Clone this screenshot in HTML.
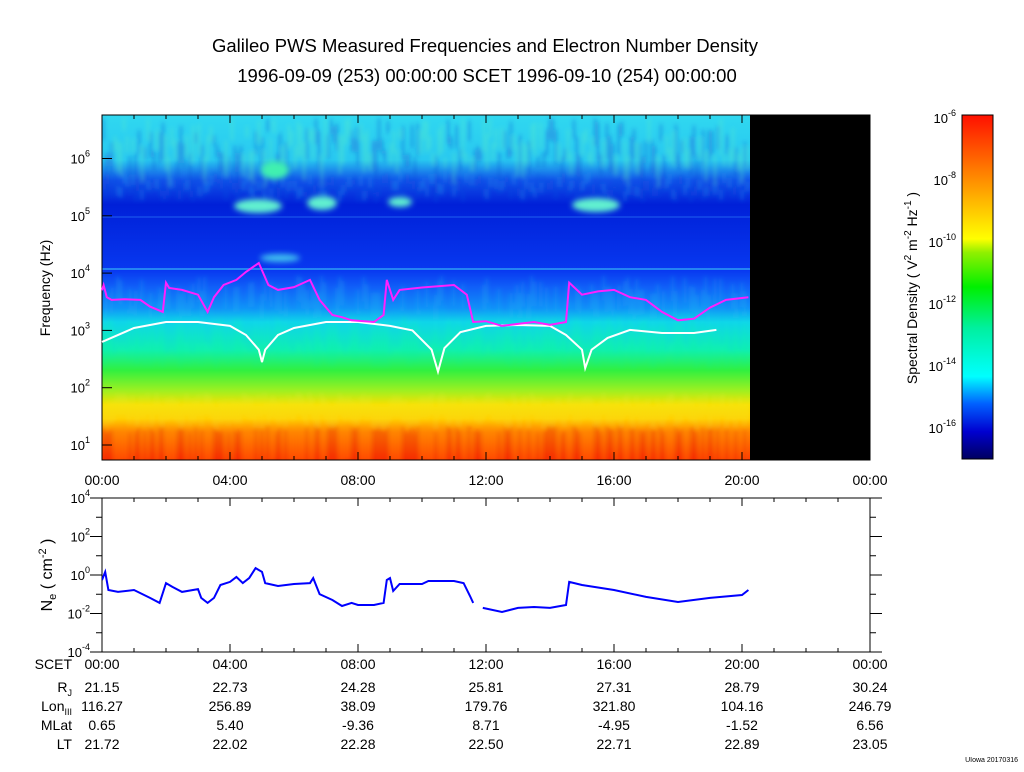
<!DOCTYPE html>
<html><head><meta charset="utf-8"><style>
body{margin:0;background:#fff;width:1024px;height:767px;overflow:hidden;font-family:"Liberation Sans",sans-serif}
svg text{font-family:"Liberation Sans",sans-serif;fill:#000}
</style></head><body>
<svg id="c" width="1024" height="767" xmlns="http://www.w3.org/2000/svg">
<defs>
<linearGradient id="spec" x1="0" y1="115" x2="0" y2="460" gradientUnits="userSpaceOnUse">
<stop offset="0" stop-color="#30d8f0"/><stop offset="0.13" stop-color="#28c8f0"/>
<stop offset="0.19" stop-color="#1050e8"/><stop offset="0.26" stop-color="#0020d8"/>
<stop offset="0.45" stop-color="#0838f0"/><stop offset="0.5" stop-color="#1060f8"/>
<stop offset="0.56" stop-color="#1090f8"/><stop offset="0.6" stop-color="#10d8e8"/>
<stop offset="0.68" stop-color="#10f0b0"/><stop offset="0.74" stop-color="#30f040"/>
<stop offset="0.8" stop-color="#a0f020"/><stop offset="0.84" stop-color="#f8e000"/>
<stop offset="0.88" stop-color="#ffd000"/><stop offset="0.92" stop-color="#ff8000"/>
<stop offset="1" stop-color="#ff3000"/>
</linearGradient>
<linearGradient id="cbar" x1="0" y1="1" x2="0" y2="0">
<stop offset="0" stop-color="#000060"/><stop offset="0.08" stop-color="#0000d0"/>
<stop offset="0.16" stop-color="#0060ff"/><stop offset="0.24" stop-color="#00ffff"/>
<stop offset="0.38" stop-color="#00f0a0"/><stop offset="0.5" stop-color="#00f000"/>
<stop offset="0.6" stop-color="#90f000"/><stop offset="0.64" stop-color="#ffff00"/>
<stop offset="0.76" stop-color="#ffb000"/><stop offset="0.88" stop-color="#ff6000"/>
<stop offset="1" stop-color="#ff1000"/>
</linearGradient>
<filter id="bl"><feGaussianBlur stdDeviation="3"/></filter>
<filter id="bl2"><feGaussianBlur stdDeviation="2"/></filter>
<clipPath id="clipTop"><rect x="102" y="115" width="648" height="345"/></clipPath>
<clipPath id="clipBot"><rect x="102" y="498" width="768" height="154"/></clipPath>
</defs>
<text x="485" y="52" font-size="18.5" text-anchor="middle">Galileo PWS Measured Frequencies and Electron Number Density</text>
<text x="487" y="82" font-size="18.5" text-anchor="middle">1996-09-09 (253) 00:00:00 SCET 1996-09-10 (254) 00:00:00</text>
<g clip-path="url(#clipTop)">
<rect x="102" y="115" width="648" height="345" fill="url(#spec)"/>
<g id="noise" filter="url(#bl2)"></g>
<g filter="url(#bl)">
<ellipse cx="275" cy="170" rx="14" ry="9" fill="#40f0b0"/>
<ellipse cx="258" cy="206" rx="24" ry="7" fill="#60f0d0"/>
<ellipse cx="322" cy="203" rx="15" ry="7" fill="#60f0d0"/>
<ellipse cx="400" cy="202" rx="12" ry="5" fill="#60f0d0"/>
<ellipse cx="596" cy="205" rx="24" ry="7" fill="#60f0d0"/>
<ellipse cx="280" cy="258" rx="20" ry="4" fill="#40c0f0"/>
</g>
<rect x="102" y="268" width="648" height="2" fill="#40d0f8" opacity="0.5"/>
<rect x="102" y="216" width="648" height="2" fill="#2060f0" opacity="0.5"/>
</g>
<rect x="750" y="115" width="120" height="345" fill="#000"/>
<g id="topAxes"></g>
<g id="botAxes"></g>
<g id="lines"></g>
<text transform="translate(50,288) rotate(-90)" font-size="14" text-anchor="middle">Frequency (Hz)</text>
<text transform="translate(52,575) rotate(-90)" font-size="16" text-anchor="middle">N<tspan font-size="11" dy="4">e</tspan><tspan dy="-4"> ( cm</tspan><tspan font-size="11" dy="-6">-2</tspan><tspan dy="6"> )</tspan></text>
<rect x="962" y="115" width="31" height="344" fill="url(#cbar)" stroke="#000"/>
<g id="cbTicks"></g>
<text transform="translate(917,288) rotate(-90)" font-size="14" text-anchor="middle">Spectral Density ( V<tspan font-size="10" dy="-6">2</tspan><tspan dy="6"> m</tspan><tspan font-size="10" dy="-6">-2</tspan><tspan dy="6"> Hz</tspan><tspan font-size="10" dy="-6">-1</tspan><tspan dy="6"> )</tspan></text>
<g id="table" font-size="14"></g>
<text x="1018" y="762" font-size="7" text-anchor="end">UIowa 20170316</text>
</svg>
<script>
const magHours=[0,0.05,0.15,0.3,0.7,1.2,1.5,1.9,2.0,2.1,2.5,3.0,3.3,3.5,3.8,4.2,4.5,4.9,5.2,5.5,6.0,6.5,6.8,7.2,7.5,7.8,8.2,8.5,8.8,8.9,9.1,9.3,10.0,11.0,11.4,11.6,12.0,12.5,13.0,13.5,14.0,14.5,14.6,15.0,15.5,16.0,16.5,17.0,17.5,18.0,18.5,19.0,19.5,20.2];
const magHz=[5000,6200,3800,3400,3500,3400,2600,2100,6800,5500,5100,4200,2100,3800,6200,7600,10500,15000,6200,5100,5700,7600,3400,1860,1700,1500,1450,1400,1860,7600,3400,5100,5600,6200,4200,1400,1450,1200,1300,1400,1250,1400,6800,4200,4800,5100,3800,3400,2100,1500,1600,2500,3400,3800];
const wHours=[0,1,2,3,4,4.5,4.9,5.0,5.1,5.5,6,7,8,9,9.7,10.3,10.5,10.7,11.2,12,13,14,14.5,15.0,15.1,15.3,15.8,16.5,17.5,18.5,19.2];
const wHz=[630,1100,1400,1400,1200,830,460,280,460,830,1100,1400,1400,1200,1000,460,190,490,930,1200,1240,1200,830,460,220,460,740,1020,900,900,1020];
const neHours=[0,0.1,0.2,0.5,1,1.5,1.8,2.0,2.2,2.5,3.0,3.1,3.3,3.5,3.7,4.0,4.2,4.4,4.6,4.8,5.0,5.1,5.5,6,6.5,6.6,6.8,7.2,7.5,7.8,8,8.5,8.8,8.9,9.0,9.1,9.3,10,10.2,11,11.3,11.5,11.6,null,11.9,12.5,13,13.5,14,14.5,14.6,15,16,17,18,19,20,20.2];
const neLog10=[-0.26,0.16,-0.78,-0.88,-0.78,-1.19,-1.45,-0.42,-0.62,-0.88,-0.73,-1.19,-1.45,-1.19,-0.52,-0.36,-0.1,-0.42,-0.16,0.36,0.16,-0.42,-0.57,-0.47,-0.42,-0.16,-0.99,-1.3,-1.61,-1.45,-1.56,-1.56,-1.45,-0.26,-0.16,-0.83,-0.47,-0.47,-0.31,-0.31,-0.42,-1.09,-1.45,null,-1.71,-1.92,-1.71,-1.66,-1.71,-1.56,-0.36,-0.52,-0.78,-1.14,-1.4,-1.19,-1.04,-0.78];
const timeLabels=["00:00","04:00","08:00","12:00","16:00","20:00","00:00"];
const rjVals=["21.15","22.73","24.28","25.81","27.31","28.79","30.24"];
const lonVals=["116.27","256.89","38.09","179.76","321.80","104.16","246.79"];
const mlatVals=["0.65","5.40","-9.36","8.71","-4.95","-1.52","6.56"];
const ltVals=["21.72","22.02","22.28","22.50","22.71","22.89","23.05"];
const freqExps=[1,2,3,4,5,6];
const neExps=[4,2,0,-2,-4];
const cbExps=[-6,-8,-10,-12,-14,-16];

const NS="http://www.w3.org/2000/svg";
const X0=102,X1=870;
const xT=h=>X0+(X1-X0)*h/24;
const yF=f=>445-(Math.log10(f)-1)*57.3;
const yN=l=>575-l*19.25;
const yCb=e=>118+(-6-e)/2*62;
function mk(tag,attrs,parent){const e=document.createElementNS(NS,tag);for(const k in attrs)e.setAttribute(k,attrs[k]);parent.appendChild(e);return e;}
// decorative texture
const nz=document.getElementById('noise');
function rnd(i){return Math.abs(Math.sin(i*12.9898)*43758.5)%1;}
for(let x=102;x<750;x+=3){
 const k=rnd(x),k2=rnd(x+0.37),k3=rnd(x+0.71);
 mk('rect',{x:x,y:425+k2*8,width:1.5,height:35,fill:k>0.5?'#e02000':'#ff9000',opacity:0.55},nz);
 mk('rect',{x:x,y:392+k*15,width:1.2,height:22,fill:'#f0f040',opacity:0.45},nz);
 mk('rect',{x:x,y:118+k2*40,width:2,height:10+k3*30,fill:k>0.5?'#1040d0':'#60f0c0',opacity:0.45},nz);
 mk('rect',{x:x,y:300+k*30,width:1,height:40,fill:k>0.5?'#20f0a0':'#10c0f0',opacity:0.35},nz);
 mk('rect',{x:x,y:172+k3*20,width:2,height:10,fill:k>0.4?'#1050e0':'#20a0f0',opacity:0.5},nz);
 if(k3>0.5)mk('rect',{x:x,y:275+k*20,width:1.5,height:25,fill:'#20c8f0',opacity:0.4},nz);
}
// top axes
const ta=document.getElementById('topAxes');
const tf=mk('rect',{x:102,y:115,width:768,height:345,fill:'none',stroke:'#000'},ta);


for(let h=0;h<=24;h++){
 const len=h%4===0?8:4;
 mk('line',{x1:xT(h),y1:460,x2:xT(h),y2:460-len,stroke:'#000'},ta);
 mk('line',{x1:xT(h),y1:115,x2:xT(h),y2:115+len,stroke:'#000'},ta);
 mk('line',{x1:xT(h),y1:652,x2:xT(h),y2:652-len,stroke:'#000'},ta);
 mk('line',{x1:xT(h),y1:498,x2:xT(h),y2:498+len,stroke:'#000'},ta);
}
timeLabels.forEach((t,i)=>{
 const e=mk('text',{x:xT(i*4),y:485,'font-size':14,'text-anchor':'middle'},ta);e.textContent=t;
 
 
});
freqExps.forEach(p=>{
 const y=yF(Math.pow(10,p));
 mk('line',{x1:102,y1:y,x2:112,y2:y,stroke:'#000'},ta);
 mk('line',{x1:870,y1:y,x2:860,y2:y,stroke:'#000'},ta);
 const e=mk('text',{x:90,y:y+5,'font-size':13,'text-anchor':'end'},ta);
 e.innerHTML='10<tspan font-size="9" dy="-7">'+p+'</tspan>';
 
 
});
// bottom axes
const ba=document.getElementById('botAxes');
const bf=mk('rect',{x:102,y:498,width:768,height:154,fill:'none',stroke:'#000'},ba);


for(let p=4;p>=-4;p--){
 const y=yN(p);
 const len=p%2===0?12:6;
 mk('line',{x1:102,y1:y,x2:102-len,y2:y,stroke:'#000'},ba);
 mk('line',{x1:870,y1:y,x2:870+len,y2:y,stroke:'#000'},ba);
}
neExps.forEach(p=>{
 const y=yN(p);
 const e=mk('text',{x:90,y:y+5,'font-size':13,'text-anchor':'end'},ba);
 e.innerHTML='10<tspan font-size="9" dy="-7">'+p+'</tspan>';
 
 
});
// colorbar ticks
const cb=document.getElementById('cbTicks');
cbExps.forEach(p=>{
 const e=mk('text',{x:956,y:yCb(p)+5,'font-size':13,'text-anchor':'end'},cb);
 e.innerHTML='10<tspan font-size="9" dy="-7">'+p+'</tspan>';
 
 
});
// lines
const lg=document.getElementById('lines');
function path(xs,ys,fx,fy){let d='',pen=false;for(let i=0;i<xs.length;i++){if(xs[i]===null||ys[i]===null){pen=false;continue;}d+=(pen?'L':'M')+fx(xs[i]).toFixed(1)+','+fy(ys[i]).toFixed(1);pen=true;}return d;}
const pw=mk('path',{d:path(wHours,wHz,xT,yF),fill:'none',stroke:'#fff','stroke-width':2},lg);


const pm=mk('path',{d:path(magHours,magHz,xT,yF),fill:'none',stroke:'#ff20ff','stroke-width':2},lg);


const pn=mk('path',{d:path(neHours,neLog10,xT,yN),fill:'none',stroke:'#0000ff','stroke-width':2,'clip-path':'url(#clipBot)'},lg);


// table
const tb=document.getElementById('table');
const rows=[["SCET",timeLabels,669],["R<tspan font-size='9' dy='4'>J</tspan>",rjVals,692],["Lon<tspan font-size='9' dy='4'>III</tspan>",lonVals,711],["MLat",mlatVals,730],["LT",ltVals,749]];
rows.forEach(r=>{
 const h=mk('text',{x:72,y:r[2],'text-anchor':'end'},tb);h.innerHTML=r[0];
 
 
 r[1].forEach((v,i)=>{
  const e=mk('text',{x:xT(i*4),y:r[2],'text-anchor':'middle'},tb);e.textContent=v;
  
  
 });
});
</script>
</body></html>
